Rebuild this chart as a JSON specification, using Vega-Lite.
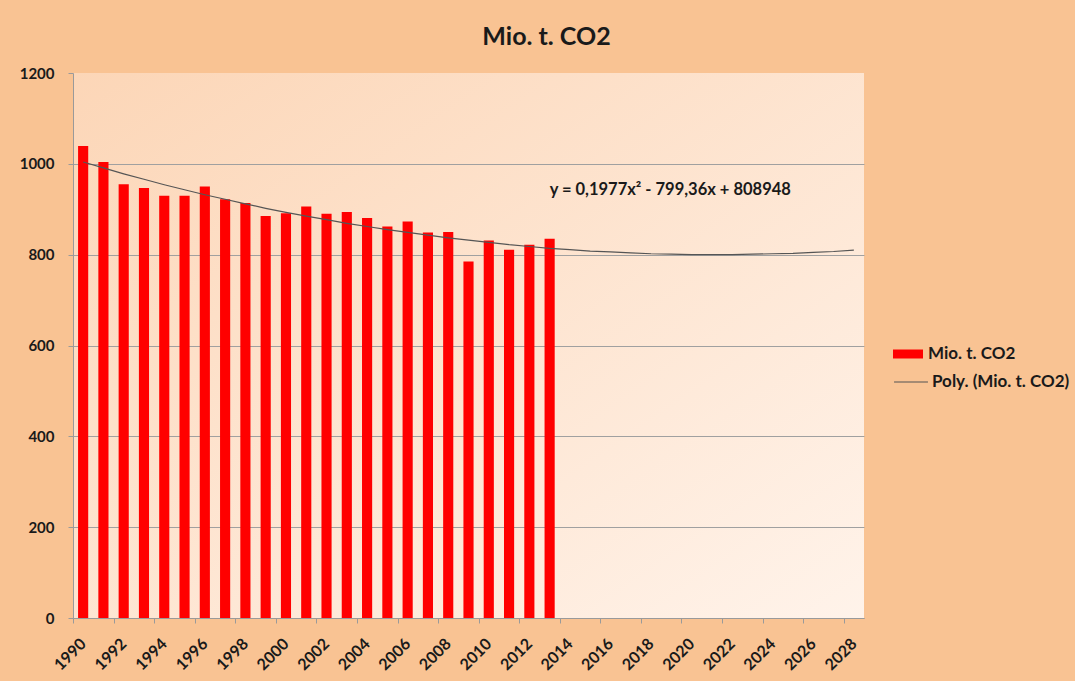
{
  "$schema": "https://vega.github.io/schema/vega-lite/v6.json",
  "width": 791,
  "height": 545,
  "autosize": {"type": "none"},
  "padding": {"left": 73, "top": 73, "right": 211, "bottom": 63},
  "background": "#F9C393",
  "title": {"text": "Mio. t. CO2", "font": "Lato", "fontSize": 25, "fontWeight": "bold", "color": "#1a1a1a", "anchor": "middle", "dx": 78, "offset": 16},
  "config": {
    "view": {"stroke": null, "fill": {"gradient": "linear", "x1": 0, "y1": 0, "x2": 1, "y2": 1, "stops": [{"offset": 0, "color": "#FCD6B7"}, {"offset": 1, "color": "#FFF3EA"}]}},
    "font": "Lato"
  },
  "data": {"values": [
    {"year": "1990", "co2": 1039, "trend": 1004},
    {"year": "1991", "co2": 1004, "trend": 991},
    {"year": "1992", "co2": 955, "trend": 978},
    {"year": "1993", "co2": 947, "trend": 966},
    {"year": "1994", "co2": 930, "trend": 954},
    {"year": "1995", "co2": 930, "trend": 943},
    {"year": "1996", "co2": 950, "trend": 932},
    {"year": "1997", "co2": 922, "trend": 922},
    {"year": "1998", "co2": 914, "trend": 912},
    {"year": "1999", "co2": 885, "trend": 902},
    {"year": "2000", "co2": 891, "trend": 893},
    {"year": "2001", "co2": 906, "trend": 885},
    {"year": "2002", "co2": 890, "trend": 877},
    {"year": "2003", "co2": 894, "trend": 869},
    {"year": "2004", "co2": 881, "trend": 862},
    {"year": "2005", "co2": 862, "trend": 855},
    {"year": "2006", "co2": 873, "trend": 849},
    {"year": "2007", "co2": 849, "trend": 843},
    {"year": "2008", "co2": 850, "trend": 837},
    {"year": "2009", "co2": 785, "trend": 832},
    {"year": "2010", "co2": 831, "trend": 827},
    {"year": "2011", "co2": 811, "trend": 822},
    {"year": "2012", "co2": 822, "trend": 818},
    {"year": "2013", "co2": 835, "trend": 814},
    {"year": "2014", "co2": null, "trend": 811},
    {"year": "2015", "co2": null, "trend": 808},
    {"year": "2016", "co2": null, "trend": 806},
    {"year": "2017", "co2": null, "trend": 804},
    {"year": "2018", "co2": null, "trend": 802},
    {"year": "2019", "co2": null, "trend": 801},
    {"year": "2020", "co2": null, "trend": 800},
    {"year": "2021", "co2": null, "trend": 800},
    {"year": "2022", "co2": null, "trend": 800},
    {"year": "2023", "co2": null, "trend": 801},
    {"year": "2024", "co2": null, "trend": 802},
    {"year": "2025", "co2": null, "trend": 803},
    {"year": "2026", "co2": null, "trend": 805},
    {"year": "2027", "co2": null, "trend": 807},
    {"year": "2028", "co2": null, "trend": 810}
  ]},
  "layer": [
    {
      "mark": {"type": "bar", "color": "#FF0000"},
      "encoding": {
        "x": {
          "field": "year", "type": "ordinal",
          "scale": {"type": "band", "paddingInner": 0.5, "paddingOuter": 0.25},
          "axis": {
            "title": null,
            "values": ["1990","1992","1994","1996","1998","2000","2002","2004","2006","2008","2010","2012","2014","2016","2018","2020","2022","2024","2026","2028"],
            "bandPosition": 0.5,
            "tickOffset": -10.14,
            "labelOffset": 10,
            "labelAngle": -45,
            "labelAlign": "right",
            "labelBaseline": "middle",
            "labelPadding": 18,
            "labelFont": "Lato",
            "labelFontWeight": "bold",
            "labelFontSize": 16,
            "labelColor": "#1a1a1a",
            "tickSize": 5,
            "tickColor": "#9A9A9A",
            "domainColor": "#9A9A9A",
            "grid": false
          }
        },
        "y": {
          "field": "co2", "type": "quantitative",
          "scale": {"domain": [0, 1200], "nice": false},
          "axis": {
            "title": null,
            "format": "d",
            "values": [0, 200, 400, 600, 800, 1000, 1200],
            "grid": true,
            "gridColor": "#A0A0A0",
            "gridOpacity": {"condition": {"test": "datum.value === 1200", "value": 0}, "value": 1},
            "domainColor": "#9A9A9A",
            "tickColor": "#9A9A9A",
            "tickSize": 5,
            "labelPadding": 14,
            "labelFont": "Lato",
            "labelFontWeight": "bold",
            "labelFontSize": 15,
            "labelColor": "#1a1a1a"
          }
        },
        "fill": {
          "datum": "Mio. t. CO2",
          "scale": {"range": ["#FF0000"]},
          "legend": {
            "orient": "none", "legendX": 820, "legendY": 266, "title": null, "padding": 0,
            "symbolType": "M-1,-0.3H1V0.3H-1Z", "symbolSize": 900, "symbolStrokeWidth": 0,
            "labelFont": "Lato", "labelFontWeight": "bold", "labelFontSize": 17, "labelColor": "#1a1a1a", "labelOffset": 5
          }
        }
      }
    },
    {
      "mark": {"type": "line", "strokeWidth": 1.2},
      "encoding": {
        "x": {"field": "year", "type": "ordinal"},
        "y": {"field": "trend", "type": "quantitative"},
        "stroke": {
          "datum": "Poly. (Mio. t. CO2)",
          "scale": {"range": ["#555555"]},
          "legend": {
            "orient": "none", "legendX": 820, "legendY": 291, "title": null, "padding": 0,
            "symbolType": "stroke", "symbolSize": 1150, "symbolStrokeWidth": 1.2, "symbolStrokeColor": "#7A7268",
            "labelFont": "Lato", "labelFontWeight": "bold", "labelFontSize": 17, "labelColor": "#1a1a1a", "labelOffset": 3
          }
        }
      }
    },
    {
      "data": {"values": [{"year": "2013", "v": 942, "label": "y = 0,1977x² - 799,36x + 808948"}]},
      "mark": {"type": "text", "align": "left", "baseline": "middle", "font": "Lato", "fontWeight": "bold", "fontSize": 16.5, "color": "#1a1a1a"},
      "encoding": {
        "x": {"field": "year", "type": "ordinal"},
        "y": {"field": "v", "type": "quantitative"},
        "text": {"field": "label"}
      }
    }
  ]
}
